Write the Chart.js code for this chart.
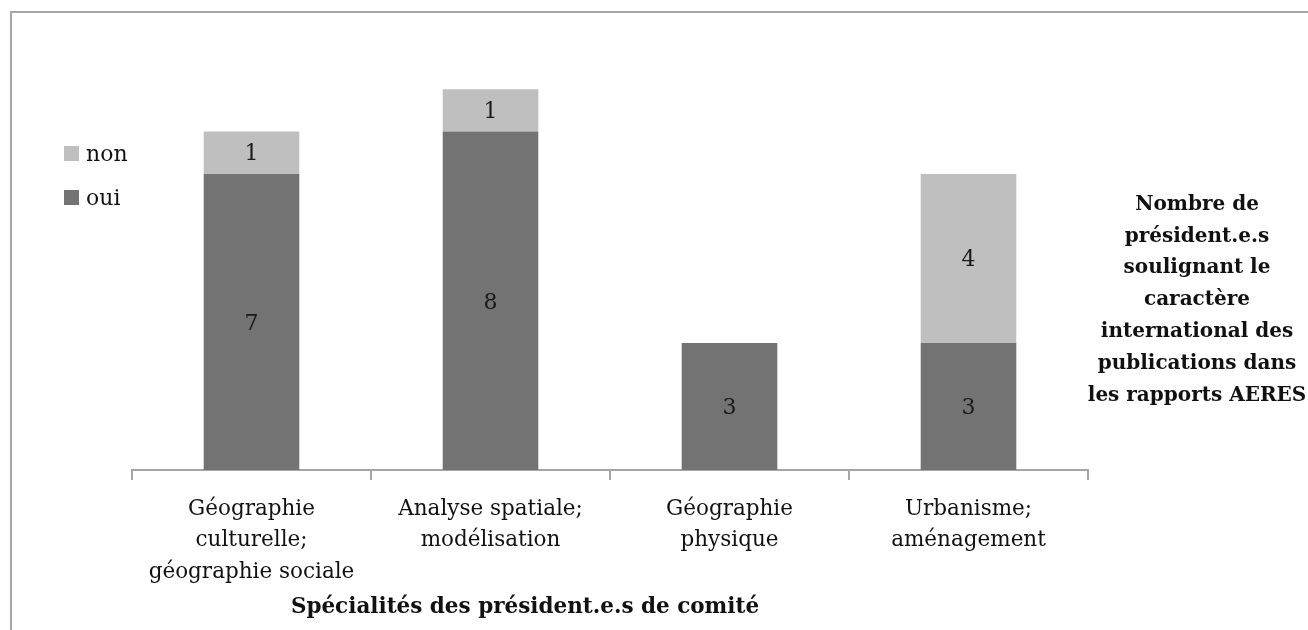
<!DOCTYPE html>
<html>
<head>
<meta charset="utf-8">
<script src="https://cdn.jsdelivr.net/npm/chart.js@4.4.1/dist/chart.umd.min.js"></script>
<style>
  html, body { margin: 0; padding: 0; background: #ffffff; }
  #wrap { position: relative; width: 1308px; height: 630px; overflow: hidden; }
  #frame { position: absolute; left: 10px; top: 11px; width: 1400px; height: 700px;
           border-top: 2px solid #a6a6a6; border-left: 2px solid #a6a6a6; box-sizing: border-box; }
  canvas { position: absolute; left: 0; top: 0; }
</style>
</head>
<body>
<div id="wrap">
  <div id="frame"></div>
  <canvas id="c" width="1308" height="630"></canvas>
</div>
<script>
const categories = [
  ["Géographie", "culturelle;", "géographie sociale"],
  ["Analyse spatiale;", "modélisation"],
  ["Géographie", "physique"],
  ["Urbanisme;", "aménagement"]
];
const seriesNames = ["oui", "non"];
const ouiValues = [7, 8, 3, 3];
const nonValues = [1, 1, 0, 4];
const seriesColors = ["#737373", "#bfbfbf"];
const yMin = 0;
const yMax = 10;
const xAxisTitle = "Spécialités des président.e.s de comité";
const sideTitle = ["Nombre de", "président.e.s", "soulignant le", "caractère", "international des", "publications dans", "les rapports AERES"];

const SERIF = "'DejaVu Serif', 'Liberation Serif', serif";

const labelPlugin = {
  id: 'segLabels',
  afterDatasetsDraw(chart) {
    const ctx = chart.ctx;
    ctx.save();
    ctx.font = "22px " + SERIF;
    ctx.fillStyle = "#1a1a1a";
    ctx.textAlign = "center";
    ctx.textBaseline = "middle";
    chart.data.datasets.forEach((ds, i) => {
      const meta = chart.getDatasetMeta(i);
      meta.data.forEach((el, j) => {
        const v = ds.data[j];
        if (!v) return;
        const p = el.getProps(['x', 'y', 'base'], true);
        ctx.fillText(String(v), p.x, (p.y + p.base) / 2 + 2);
      });
    });
    ctx.restore();
  }
};

const decorPlugin = {
  id: 'decor',
  afterDraw(chart) {
    const ctx = chart.ctx;
    ctx.save();
    // legend (reverse order: non above oui)
    ctx.font = "22px " + SERIF;
    ctx.textBaseline = "middle";
    ctx.textAlign = "left";
    const items = chart.data.datasets.map(d => ({ label: d.label, color: d.backgroundColor })).reverse();
    items.forEach((it, k) => {
      const cy = 153 + k * 44;
      ctx.fillStyle = it.color;
      ctx.fillRect(64, cy - 7, 15, 15);
      ctx.fillStyle = "#111";
      ctx.fillText(it.label, 86, cy + 2);
    });
    // side title
    ctx.font = "bold 20px " + SERIF;
    ctx.textAlign = "center";
    ctx.fillStyle = "#111";
    const lh = 31.8;
    const cx = 1197, cyc = 300;
    sideTitle.forEach((t, k) => {
      ctx.fillText(t, cx, cyc + (k - (sideTitle.length - 1) / 2) * lh);
    });
    // x axis title
    ctx.font = "bold 21.5px " + SERIF;
    ctx.fillText(xAxisTitle, 525, 607);
    ctx.restore();
  }
};

new Chart(document.getElementById('c'), {
  type: 'bar',
  data: {
    labels: categories,
    datasets: [
      { label: seriesNames[0], data: ouiValues, backgroundColor: seriesColors[0], borderWidth: 0 },
      { label: seriesNames[1], data: nonValues, backgroundColor: seriesColors[1], borderWidth: 0 }
    ]
  },
  options: {
    responsive: false,
    animation: false,
    devicePixelRatio: 1,
    layout: { padding: { left: 132, right: 220, top: 47, bottom: 0 } },
    plugins: { legend: { display: false }, tooltip: { enabled: false } },
    datasets: { bar: { categoryPercentage: 0.4, barPercentage: 1.0 } },
    scales: {
      x: {
        stacked: true,
        offset: true,
        border: { display: true, color: "#a6a6a6", width: 2 },
        grid: { display: true, offset: true, drawOnChartArea: false, drawTicks: true, tickLength: 10, color: "#a6a6a6", lineWidth: 2 },
        ticks: { font: { family: SERIF, size: 21.5, lineHeight: 1.45 }, color: "#111", padding: 14, maxRotation: 0, autoSkip: false },
        afterFit(scale) { scale.height = 160; }
      },
      y: {
        stacked: true,
        display: false,
        min: yMin,
        max: yMax
      }
    }
  },
  plugins: [labelPlugin, decorPlugin]
});
</script>
</body>
</html>
